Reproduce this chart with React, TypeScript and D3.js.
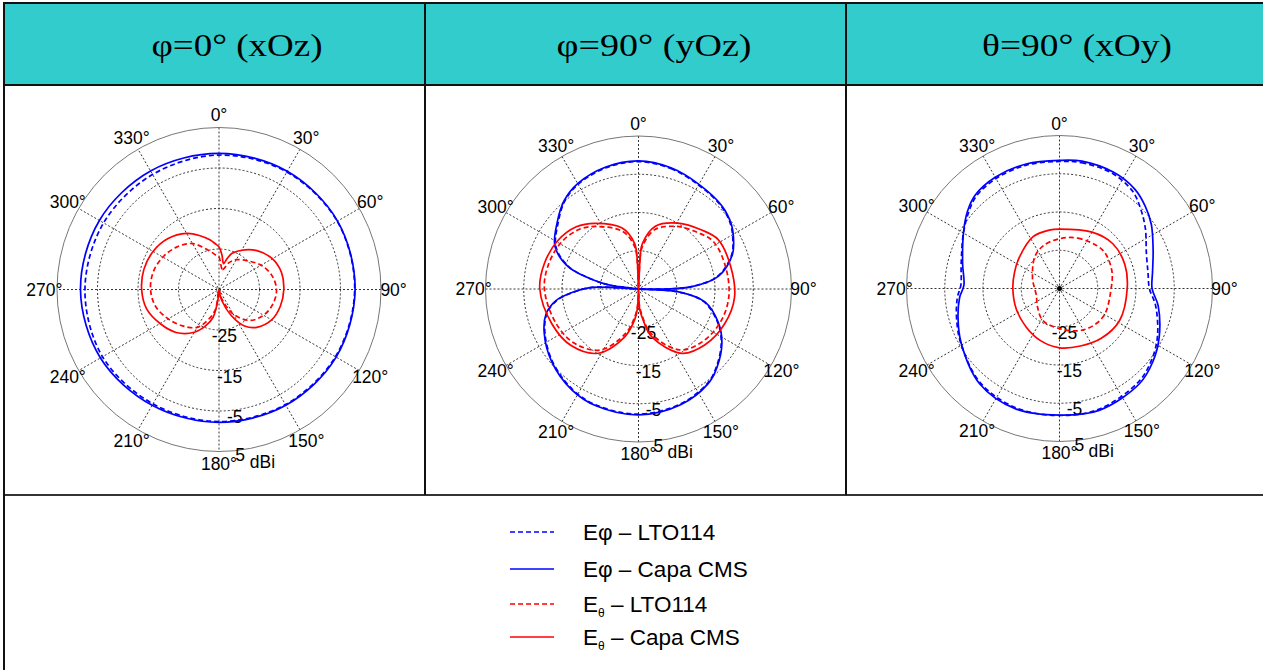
import React from "react";
import * as d3 from "d3";

type P = [number, number];

// ---------- data (bearing in degrees clockwise from top, value in dBi) ----------
const ringValues = [-25, -15, -5, 5];
const spokeAngles = [0, 30, 60, 90, 120, 150, 180, 210, 240, 270, 300, 330];
const headerTitles = ["φ=0° (xOz)", "φ=90° (yOz)", "θ=90° (xOy)"];
const legendLabels = ["LTO114", "Capa CMS", "LTO114", "Capa CMS"];

// Chart 1 : phi = 0 (xOz)
const xozEphiCapa: P[] = [
  [0, -1.4], [30, -1.3], [60, -1.2], [90, -1.4], [120, -1.6], [150, -2.0],
  [180, -2.2], [210, -2.0], [240, -1.2], [270, -0.8], [300, -0.9], [330, -1.2],
];
const xozEphiLto: P[] = [
  [0, -1.8], [30, -1.5], [60, -1.3], [90, -1.5], [120, -1.8], [150, -2.2],
  [180, -2.4], [210, -2.4], [240, -1.8], [270, -1.9], [300, -2.1], [330, -2.2],
];
const xozEthetaCapa: P[] = [
  [0, -24.5], [5, -26.5], [10, -28.5], [15, -27], [20, -25.5], [30, -23.8], [45, -21.5],
  [60, -19.8], [75, -19], [90, -19], [105, -19.3], [120, -20], [135, -21.8], [145, -24],
  [155, -28], [165, -32], [175, -34.5], [180, -35], [185, -33], [192, -28], [200, -25.5],
  [210, -22.8], [225, -20], [240, -18.2], [255, -16.5], [270, -15.9], [285, -15.8],
  [300, -16.2], [315, -17.2], [330, -19], [340, -20.8], [350, -22.6], [355, -23.6],
];
const xozEthetaLto: P[] = [
  [0, -27], [10, -30], [20, -28], [30, -26.5], [45, -25], [60, -23], [75, -21.5],
  [90, -20.8], [105, -21.2], [120, -22.3], [135, -24.2], [150, -28], [165, -33],
  [180, -35], [190, -30], [200, -27], [210, -24.2], [225, -22.3], [240, -20.5],
  [255, -18.8], [270, -18.1], [285, -18.2], [300, -19], [315, -20.2], [330, -21.9],
  [345, -25], [355, -26.5],
];

// Chart 2 : phi = 90 (yOz)
const yozEphiCapa: P[] = [
  [0, -1.5], [15, -2.2], [30, -3.4], [45, -4.2], [55, -5.4], [63, -7.1], [70, -8.9],
  [81, -13.9], [87.5, -21], [90, -28], [91.5, -35], [94, -24.5], [101, -17.3],
  [113, -12.3], [123, -9], [135, -6], [143.5, -4.3], [160, -2.8], [180, -2.1],
  [200, -2.5], [213.5, -3.4], [230, -5.4], [245, -7.8], [255, -10], [262, -13.2], [267, -17.6],
  [272, -22.8], [275, -35], [277.5, -28], [280, -24.3], [287.6, -15.7], [297, -10.5],
  [309, -7.6], [320, -4.8], [330, -3.2], [345, -2],
];
const yozEphiLto: P[] = [
  [0, -1.7], [15, -2.4], [30, -3.6], [45, -4.4], [55, -5.6], [63, -7.3], [70, -9.1],
  [81, -14.1], [87.5, -21.2], [90, -28], [91.5, -35], [94, -24.8], [101, -17.6],
  [113, -12.5], [123, -9.2], [135, -6.2], [143.5, -4.5], [160, -3.0], [180, -2.3],
  [200, -2.7], [213.5, -3.6], [230, -5.6], [245, -8.0], [255, -10.2], [262, -13.4], [267, -17.8],
  [272, -23], [275, -35], [277.5, -28], [280, -24.5], [287.6, -16], [297, -10.8],
  [309, -7.9], [320, -5.0], [330, -3.4], [345, -2.2],
];
const yozEthetaCapa: P[] = [
  [0, -35], [3, -26], [5, -23], [15, -18], [31, -14.9], [47, -12.4], [58, -10.5],
  [76, -10.2], [95, -9.8], [112, -10.7], [130, -12.3], [146, -14.7], [164.5, -22],
  [173, -27.7], [177, -30], [180, -35], [183, -30], [187, -27], [196, -22], [212, -15.2],
  [230, -12], [248, -10.6], [270, -9.2], [285, -9.5], [301, -10.4], [315, -12],
  [326.5, -14.4], [345, -18.5], [355, -23], [357.5, -27],
];
const yozEthetaLto: P[] = [
  [0, -35], [3, -27], [5, -24], [15, -19], [31, -15.9], [47, -13.5], [58, -11.8],
  [76, -11.5], [95, -11.3], [112, -11.9], [130, -13.4], [146, -15.8], [164.5, -23],
  [173, -28.5], [177, -31], [180, -35], [183, -31], [187, -28], [196, -23], [212, -16.2],
  [230, -13], [248, -11.6], [270, -10.4], [285, -10.6], [301, -11.4], [315, -13],
  [326.5, -15.4], [345, -19.5], [355, -24], [357.5, -28],
];

// Chart 3 : theta = 90 (xOy)
const xoyEphiCapa: P[] = [
  [0, -1.5], [10, -1.2], [25, -1.5], [37, -2.4], [46, -3.9], [55, -5.7], [68, -8.6], [80, -10.3],
  [90, -10.8], [100, -8.8], [116, -6], [128, -4], [140, -2.5], [162, -1.5], [180, -1.9],
  [200, -1.5], [220, -2.5], [241, -5.6], [254, -7.4], [265, -8.8], [272, -10],
  [284, -8.9], [300, -6.0], [310, -3.6], [318, -2.1], [330, -1.4], [345, -1.3],
];
const xoyEphiLto: P[] = [
  [0, -1.8], [10, -1.6], [25, -1.9], [37, -3.2], [46, -5.4], [55, -7.6], [68, -10.5], [80, -11.5],
  [90, -11.5], [100, -9.5], [116, -6.5], [128, -4.5], [140, -3], [162, -1.8], [180, -1.8],
  [200, -1.8], [220, -2.8], [241, -5.5], [254, -7], [265, -8.2], [272, -9.2],
  [284, -8.5], [300, -6], [310, -4.0], [318, -2.5], [330, -1.8], [345, -1.6],
];
const xoyEthetaCapa: P[] = [
  [0, -19.5], [30, -18], [50, -16.8], [70, -16.8], [90, -17.3], [118, -17.2], [140, -18],
  [160, -19], [180, -19.5], [200, -20.5], [221, -21.7], [245, -22.5], [270, -22.8],
  [290, -22.5], [308, -21.7], [333, -19.8], [350, -19.5],
];
const xoyEthetaLto: P[] = [
  [0, -22], [20, -21], [48, -19.9], [70, -20.5], [90, -21.5], [123, -21.4], [150, -22.5],
  [180, -24.5], [208, -25.6], [230, -27.5], [254, -28.7], [270, -28.5], [290, -27.5],
  [322, -24.5], [340, -23],
];

const BLUE = "#0000ff";
const RED = "#ff0000";
const DASH = "5,3";

type Chart = {
  cx: number; cy: number; R: number;
  series: { data: P[]; color: string; dashed: boolean }[];
  centerDot?: boolean;
};

const charts: Chart[] = [
  {
    cx: 219, cy: 289.5, R: 162,
    series: [
      { data: xozEphiLto, color: BLUE, dashed: true },
      { data: xozEphiCapa, color: BLUE, dashed: false },
      { data: xozEthetaLto, color: RED, dashed: true },
      { data: xozEthetaCapa, color: RED, dashed: false },
    ],
  },
  {
    cx: 638.5, cy: 289, R: 153,
    series: [
      { data: yozEphiLto, color: BLUE, dashed: true },
      { data: yozEphiCapa, color: BLUE, dashed: false },
      { data: yozEthetaLto, color: RED, dashed: true },
      { data: yozEthetaCapa, color: RED, dashed: false },
    ],
  },
  {
    cx: 1059.5, cy: 288.5, R: 153,
    centerDot: true,
    series: [
      { data: xoyEphiLto, color: BLUE, dashed: true },
      { data: xoyEphiCapa, color: BLUE, dashed: false },
      { data: xoyEthetaLto, color: RED, dashed: true },
      { data: xoyEthetaCapa, color: RED, dashed: false },
    ],
  },
];

const SANS = "'Liberation Sans', Arial, sans-serif";
const SERIF = "'Liberation Serif', 'Times New Roman', serif";

function Polar({ c }: { c: Chart }) {
  const r = d3.scaleLinear().domain([-35, 5]).range([0, c.R]).clamp(true);
  const line = d3
    .lineRadial<P>()
    .angle((d) => (d[0] * Math.PI) / 180)
    .radius((d) => r(d[1]))
    .curve(d3.curveCatmullRomClosed.alpha(0.5));
  const labR = c.R * 1.078;
  return (
    <g transform={`translate(${c.cx},${c.cy})`}>
      {spokeAngles.filter((a) => a < 180).map((a) => {
        const t = (a * Math.PI) / 180;
        return (
          <line key={a} x1={c.R * Math.sin(t)} y1={-c.R * Math.cos(t)} x2={-c.R * Math.sin(t)} y2={c.R * Math.cos(t)}
            stroke="#000" strokeWidth={0.8} strokeDasharray="2,2" />
        );
      })}
      {ringValues.slice(0, 3).map((v) => (
        <circle key={v} r={r(v)} fill="none" stroke="#000" strokeWidth={0.8} strokeDasharray="2,2" />
      ))}
      <circle r={c.R} fill="none" stroke="#777" strokeWidth={1} />
      {spokeAngles.map((a) => {
        const t = (a * Math.PI) / 180;
        return (
          <text key={a} x={labR * Math.sin(t)} y={-labR * Math.cos(t)} textAnchor="middle" dominantBaseline="central"
            fontFamily={SANS} fontSize={17.5} fill="#000">{`${a}°`}</text>
        );
      })}
      {ringValues.map((v) => {
        const rr = r(v);
        return (
          <text key={v} x={rr * 0.13} y={rr + (v === 5 ? 3.5 : 6)} textAnchor="middle" dominantBaseline="central"
            fontFamily={SANS} fontSize={17.5} fill="#000">{v}</text>
        );
      })}
      <text x={c.R * 0.19} y={c.R * 1.065} dominantBaseline="central" fontFamily={SANS} fontSize={17.5} fill="#000">dBi</text>
      {c.series.map((s, i) => (
        <path key={i} d={line(s.data) || ""} fill="none" stroke={s.color} strokeWidth={1.7}
          strokeDasharray={s.dashed ? DASH : undefined} strokeLinejoin="round" />
      ))}
      {c.centerDot && <circle r={2.5} fill="#000" />}
    </g>
  );
}

const headerCenters = [237, 654, 1077];
const headerWidths = [171, 195, 190];

export default function App() {
  const legendRows = [
    { color: BLUE, dashed: true, sub: false, y: 532 },
    { color: BLUE, dashed: false, sub: false, y: 569 },
    { color: RED, dashed: true, sub: true, y: 604 },
    { color: RED, dashed: false, sub: true, y: 637 },
  ];
  return (
    <svg width={1263} height={670} style={{ position: "absolute", left: 0, top: 0, background: "#fff" }}>
      <rect x={0} y={0} width={1263} height={670} fill="#fff" />
      <rect x={4} y={3} width={1259} height={82} fill="#33cccc" />
      {headerTitles.map((t, i) => (
        <text key={i} x={headerCenters[i]} y={56} textAnchor="middle" fontFamily={SERIF} fontSize={31}
          textLength={headerWidths[i]} lengthAdjust="spacingAndGlyphs" fill="#000">{t}</text>
      ))}
      {/* table lines */}
      <line x1={3} y1={3} x2={1263} y2={3} stroke="#111" strokeWidth={2} />
      <line x1={3} y1={85} x2={1263} y2={85} stroke="#111" strokeWidth={2} />
      <line x1={3} y1={495} x2={1263} y2={495} stroke="#333" strokeWidth={2} />
      <line x1={4} y1={2} x2={4} y2={670} stroke="#111" strokeWidth={2} />
      <line x1={425} y1={2} x2={425} y2={495} stroke="#111" strokeWidth={2} />
      <line x1={846} y1={2} x2={846} y2={495} stroke="#111" strokeWidth={2} />
      {charts.map((c, i) => <Polar key={i} c={c} />)}
      {/* legend */}
      {legendRows.map((row, i) => (
        <g key={i}>
          <line x1={510} x2={554} y1={row.y} y2={row.y} stroke={row.color} strokeWidth={1.3}
            strokeDasharray={row.dashed ? DASH : undefined} />
          <text x={583} y={row.y + 8} fontFamily={SANS} fontSize={22.5} fill="#000">
            {row.sub ? (
              <>
                <tspan>E</tspan>
                <tspan fontSize={12} dy={5}>θ</tspan>
                <tspan dy={-5}>{` – ${legendLabels[i]}`}</tspan>
              </>
            ) : (
              `Eφ – ${legendLabels[i]}`
            )}
          </text>
        </g>
      ))}
    </svg>
  );
}
